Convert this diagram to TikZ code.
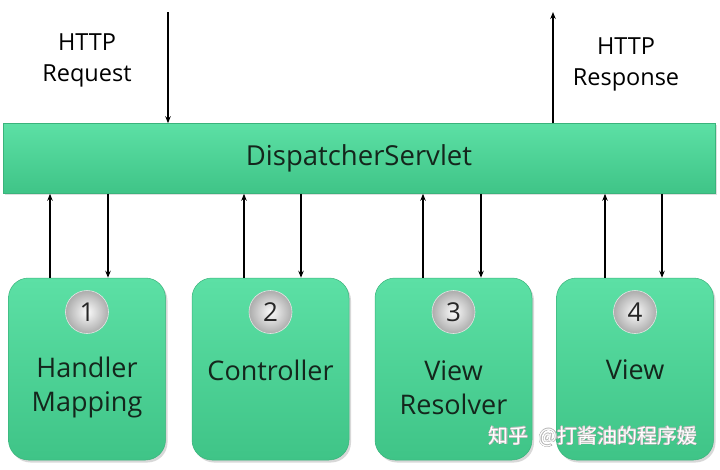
\documentclass[tikz,border=0pt]{standalone}
\usepackage{fontspec}
\usepackage[copies]{contour}
\setmainfont{Open Sans}
\newfontfamily\cjkfont{Noto Sans CJK SC}
\usetikzlibrary{arrows.meta,shadows}
\definecolor{gtop}{HTML}{5CE0A5}
\definecolor{gbot}{HTML}{3FC487}
\definecolor{gedge}{HTML}{3AB37B}
\definecolor{txt}{HTML}{14261C}
\contourlength{0.5pt}
\begin{document}
\begin{tikzpicture}[x=1pt,y=-1pt,
  arr/.style={-{Stealth[length=7pt,width=5.5pt]}, line width=1.1pt, black},
  barbox/.style={rectangle, top color=gtop, bottom color=gbot, draw=gedge, line width=0.5pt,
    minimum width=712pt, minimum height=70pt, inner sep=0pt,
    drop shadow={opacity=0.25, shadow xshift=1.5pt, shadow yshift=-1.5pt},
    font=\fontsize{27.5}{32}\selectfont, text=txt},
  card/.style={rectangle, rounded corners=20pt, top color=gtop, bottom color=gbot, draw=gedge,
    line width=0.5pt, minimum width=157pt, minimum height=182pt, inner sep=0pt,
    drop shadow={opacity=0.3, shadow xshift=2pt, shadow yshift=-2.5pt}},
  num/.style={circle, minimum size=43pt, inner sep=0pt, inner color=white!97!gray,
    outer color=gray!65, draw=white!80!gray, line width=0.6pt,
    font=\fontsize{26}{28}\selectfont, text=black!85},
  lbl/.style={align=center, font=\fontsize{27}{34}\selectfont, text=txt},
  http/.style={align=center, font=\fontsize{23.5}{31}\selectfont, text=black}]
\useasboundingbox (0,0) rectangle (720,469);
\fill[white] (0,0) rectangle (720,469);

% boxes
\node[card] (b1) at (87,369) {};
\node[card] (b2) at (270.5,369) {};
\node[card] (b3) at (453.5,369) {};
\node[card] (b4) at (635,369) {};

\node[num] (n1) at (87,312) {1};
\node[num] (n2) at (270.5,312) {2};
\node[num] (n3) at (453.5,312) {3};
\node[num] (n4) at (635,312) {4};

\node[lbl] (t1) at (87,387) {Handler\\Mapping};
\node[lbl] (t2) at (270.5,370) {Controller};
\node[lbl] (t3) at (453.5,388) {View\\Resolver};
\node[lbl] (t4) at (635,370) {View};

% dispatcher bar
\node[barbox] (ds) at (359,158.5) {DispatcherServlet};

% http labels
\node[http] (req) at (87,60) {HTTP\\Request};
\node[http] (resp) at (626,64) {HTTP\\Response};

\coordinate (rq) at (168,12);
\coordinate (rs) at (553,12);
\draw[arr] (rq) -- (rq |- ds.north);
\draw[arr] (rs |- ds.north) -- (rs);

% vertical connectors
\coordinate (u1) at (50,0);  \coordinate (d1) at (108,0);
\coordinate (u2) at (244,0); \coordinate (d2) at (301,0);
\coordinate (u3) at (423,0); \coordinate (d3) at (481,0);
\coordinate (u4) at (605,0); \coordinate (d4) at (662,0);
\draw[arr] (u1 |- b1.north) -- (u1 |- ds.south);
\draw[arr] (d1 |- ds.south) -- (d1 |- b1.north);
\draw[arr] (u2 |- b2.north) -- (u2 |- ds.south);
\draw[arr] (d2 |- ds.south) -- (d2 |- b2.north);
\draw[arr] (u3 |- b3.north) -- (u3 |- ds.south);
\draw[arr] (d3 |- ds.south) -- (d3 |- b3.north);
\draw[arr] (u4 |- b4.north) -- (u4 |- ds.south);
\draw[arr] (d4 |- ds.south) -- (d4 |- b4.north);

% watermark
\node[font=\cjkfont\fontsize{20}{24}\selectfont, text=white] (wm) at (593,437)
  {\contour{gray!55}{知乎\hspace{10pt}@打酱油的程序媛}};
\end{tikzpicture}
\end{document}
